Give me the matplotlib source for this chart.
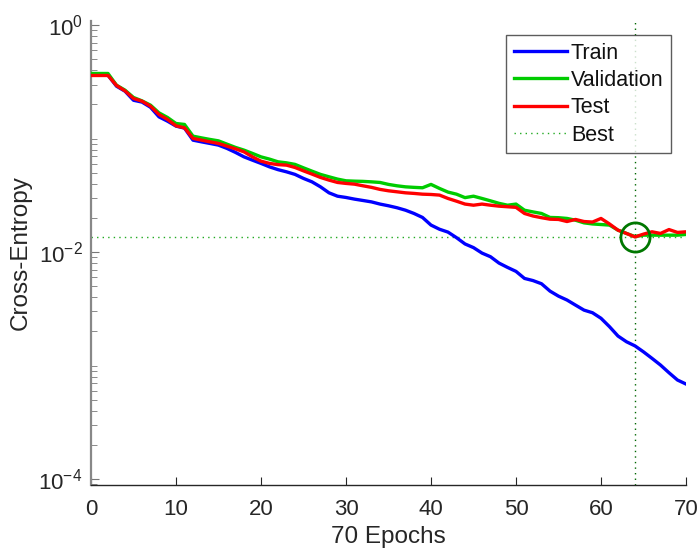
import numpy as np
import matplotlib
matplotlib.use("Agg")
import matplotlib.pyplot as plt
from matplotlib.ticker import LogLocator, FixedLocator, NullFormatter

plt.rcParams['font.family'] = ['Liberation Sans', 'DejaVu Sans']
plt.rcParams['mathtext.fontset'] = 'custom'
plt.rcParams['mathtext.rm'] = 'Liberation Sans'
plt.rcParams['mathtext.it'] = 'Liberation Sans'

epochs = np.arange(0, 71)

train = [0.3625, 0.3625, 0.3625, 0.290, 0.262, 0.218, 0.210, 0.189, 0.1556, 0.1426,
         0.129, 0.1238, 0.0970, 0.0937, 0.0907, 0.0877, 0.0820, 0.0756, 0.0691, 0.0646,
         0.0605, 0.0564, 0.0533, 0.0510, 0.0484, 0.0446, 0.0416, 0.0376, 0.0333, 0.0311,
         0.0303, 0.0293, 0.0285, 0.0277, 0.0265, 0.0256, 0.0246, 0.0234, 0.0219, 0.0202,
         0.0173, 0.0159, 0.0150, 0.0134, 0.0118, 0.01095, 0.0098, 0.0091, 0.0080, 0.00733,
         0.00676, 0.00586, 0.00561, 0.00526, 0.00453, 0.00409, 0.00378, 0.00341, 0.00308, 0.00292,
         0.00261, 0.00220, 0.00182, 0.00162, 0.00149, 0.00132, 0.001157, 0.00101, 0.000864, 0.000745,
         0.000687]

validation = [0.3753, 0.3753, 0.3753, 0.296, 0.2676, 0.2307, 0.2153, 0.1973, 0.1688, 0.1537,
              0.136, 0.1334, 0.1052, 0.1016, 0.0984, 0.0956, 0.0894, 0.0837, 0.0792, 0.0741,
              0.0691, 0.0660, 0.0625, 0.0612, 0.0593, 0.0553, 0.0517, 0.0484, 0.0461, 0.0440,
              0.0425, 0.0422, 0.0420, 0.0416, 0.0411, 0.0395, 0.0384, 0.0376, 0.0372, 0.0369,
              0.0395, 0.0364, 0.0338, 0.0324, 0.0302, 0.0311, 0.0297, 0.0283, 0.0269, 0.0259,
              0.0265, 0.0234, 0.0226, 0.0219, 0.0202, 0.0201, 0.0198, 0.0191, 0.0181, 0.0177,
              0.0175, 0.0173, 0.0156, 0.0146, 0.0137, 0.0141, 0.0141, 0.0141, 0.0141, 0.0141,
              0.0143]

test = [0.3603, 0.3603, 0.3603, 0.2943, 0.2637, 0.226, 0.214, 0.1933, 0.1633, 0.1476,
        0.1297, 0.1245, 0.1004, 0.0970, 0.0937, 0.0907, 0.0859, 0.0813, 0.0765, 0.0691,
        0.0633, 0.0605, 0.0590, 0.0584, 0.0557, 0.0520, 0.0487, 0.0455, 0.0431, 0.0411,
        0.0403, 0.0397, 0.0384, 0.0372, 0.0357, 0.0347, 0.0340, 0.0333, 0.0329, 0.0324,
        0.0322, 0.0318, 0.0297, 0.0281, 0.0265, 0.0259, 0.0265, 0.0259, 0.0254, 0.0251,
        0.0248, 0.0219, 0.0208, 0.0201, 0.0195, 0.0194, 0.0186, 0.0194, 0.0186, 0.0184,
        0.0198, 0.0177, 0.0156, 0.0146, 0.0136, 0.0144, 0.0151, 0.0146, 0.0158, 0.0149,
        0.0151]

best_epoch = 64
best_value = validation[best_epoch]

fig = plt.figure(figsize=(6.99, 5.51), dpi=100)
ax = fig.add_axes([91/699, 66/551, 595/699, 464/551])

ax.plot(epochs, train, color='#0000FF', lw=2.4, label='Train', zorder=3)
ax.plot(epochs, validation, color='#00CC00', lw=2.4, label='Validation', zorder=4)
ax.plot(epochs, test, color='#FF0000', lw=2.4, label='Test', zorder=5)
ax.axhline(best_value, color='#22AA22', lw=1.0, ls=(0, (1, 3)), label='Best', zorder=2)
ax.axvline(best_epoch, color='#006600', lw=1.0, ls=(0, (1, 3)), zorder=2)
ax.plot([best_epoch], [best_value], marker='o', ms=21, mfc='none', mec='#007700',
        mew=2.0, ls='none', zorder=6)

ax.set_yscale('log')
ax.set_xlim(0, 70)
ax.set_ylim(10**-4.053, 10**0.037)
ax.set_xticks([0, 10, 20, 30, 40, 50, 60, 70])
ax.yaxis.set_major_locator(FixedLocator([1e-4, 1e-2, 1e0]))
ax.yaxis.set_minor_locator(LogLocator(base=10, subs=np.arange(1, 10), numticks=50))
ax.yaxis.set_minor_formatter(NullFormatter())

for s in ['top', 'right']:
    ax.spines[s].set_visible(False)
ax.spines['left'].set_color('#888888')
ax.spines['left'].set_linewidth(1.6)
ax.spines['bottom'].set_color('#262626')
ax.spines['bottom'].set_linewidth(1.0)

ax.tick_params(axis='both', which='both', direction='in', labelsize=16,
               labelcolor='#262626')
ax.tick_params(axis='x', which='major', length=6, pad=10, color='#262626')
ax.tick_params(axis='y', which='major', length=6, pad=6, color='#777777')
ax.tick_params(axis='y', which='minor', length=4, color='#777777')

ax.set_xlabel('70 Epochs', fontsize=17.5, color='#262626')
ax.set_ylabel('Cross-Entropy', fontsize=17.5, color='#262626')
ax.xaxis.set_label_coords(0.5, -0.089)
ax.yaxis.set_label_coords(-0.099, 0.5)

leg = ax.legend(loc='upper right', bbox_to_anchor=(671/699, 1 - 35/551),
                bbox_transform=fig.transFigure, fontsize=15.5, frameon=True,
                fancybox=False, edgecolor='#333333', handlelength=2.45,
                handletextpad=0.2, borderpad=0.35, labelspacing=0.3,
                borderaxespad=0.0)
leg.get_frame().set_linewidth(1.0)
for t in leg.get_texts():
    t.set_color('#111111')

fig.savefig('out.png', dpi=100)
